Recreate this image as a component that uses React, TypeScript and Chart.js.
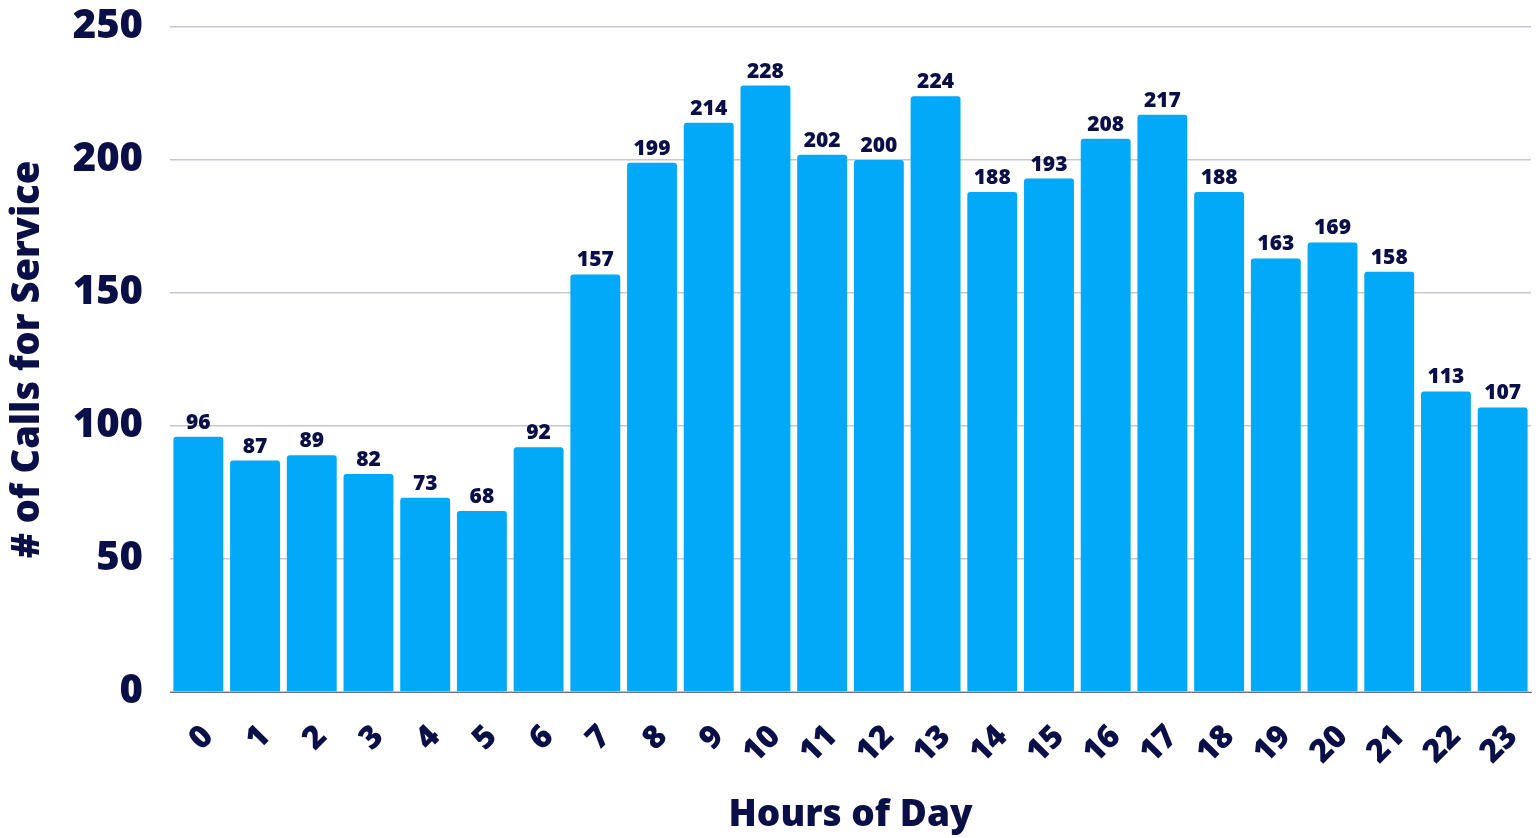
import React, { useEffect, useRef } from "react";
import { Chart, registerables } from "chart.js";

Chart.register(...registerables);

const hours: string[] = [
  "0", "1", "2", "3", "4", "5", "6", "7", "8", "9", "10", "11",
  "12", "13", "14", "15", "16", "17", "18", "19", "20", "21", "22", "23",
];
const calls: number[] = [
  96, 87, 89, 82, 73, 68, 92, 157, 199, 214, 228, 202,
  200, 224, 188, 193, 208, 217, 188, 163, 169, 158, 113, 107,
];
const yTicks: number[] = [0, 50, 100, 150, 200, 250];

const NAVY = "#0b0f47";
const BLUE = "#03a9f9";
const GRID = "#c6c6d6";
const FONT = "'Open Sans', 'Noto Sans', sans-serif";

const valueLabels = {
  id: "valueLabels",
  afterDatasetsDraw(chart: any) {
    const ctx = chart.ctx;
    const meta = chart.getDatasetMeta(0);
    const data = chart.data.datasets[0].data as number[];
    ctx.save();
    ctx.fillStyle = NAVY;
    ctx.font = `800 21px ${FONT}`;
    ctx.textAlign = "center";
    ctx.textBaseline = "alphabetic";
    meta.data.forEach((bar: any, i: number) => {
      ctx.fillText(String(data[i]), bar.x, bar.y - 8);
    });
    ctx.restore();
  },
};

export default function App() {
  const ref = useRef<HTMLCanvasElement>(null);
  useEffect(() => {
    if (!ref.current) return;
    const chart = new Chart(ref.current, {
      type: "bar",
      data: {
        labels: hours,
        datasets: [
          {
            data: calls,
            backgroundColor: BLUE,
            borderRadius: 3,
            borderSkipped: "start",
            barPercentage: 0.88,
            categoryPercentage: 1,
          },
        ],
      },
      options: {
        animation: false,
        responsive: true,
        maintainAspectRatio: false,
        layout: { padding: { top: 27, right: 8, left: 0, bottom: 0 } },
        plugins: {
          legend: { display: false },
          tooltip: { enabled: false },
        },
        scales: {
          x: {
            afterFit(scale: any) {
              scale.height = 146;
            },
            grid: { display: false, drawTicks: true, tickLength: 26 },
            border: { display: true, color: "#6e6e86", width: 1 },
            ticks: {
              color: NAVY,
              font: { family: FONT, size: 32, weight: "800" },
              minRotation: 45,
              maxRotation: 45,
              padding: 0,
              labelOffset: 10,
              autoSkip: false,
            },
            title: {
              display: true,
              text: "Hours of Day",
              color: NAVY,
              font: { family: FONT, size: 37, weight: "800" },
              padding: { top: 0, bottom: 0 },
            },
          },
          y: {
            min: 0,
            max: 250,
            afterFit(scale: any) {
              scale.width = 170;
            },
            afterBuildTicks(scale: any) {
              scale.ticks = yTicks.map((v) => ({ value: v }));
            },
            grid: {
              color: GRID,
              lineWidth: 1.5,
              drawTicks: true,
              tickLength: 27,
              tickColor: "rgba(0,0,0,0)",
            },
            border: { display: false },
            ticks: {
              color: NAVY,
              font: { family: FONT, size: 40, weight: "800" },
              padding: 0,
            },
            title: {
              display: true,
              text: "# of Calls for Service",
              color: NAVY,
              font: { family: FONT, size: 38, weight: "800" },
              padding: { top: 5, bottom: 5 },
            },
          },
        },
      },
      plugins: [valueLabels],
    } as any);
    return () => chart.destroy();
  }, []);

  return (
    <div style={{ position: "absolute", left: 0, top: 0, width: 1539, height: 838 }}>
      <canvas ref={ref} />
    </div>
  );
}
